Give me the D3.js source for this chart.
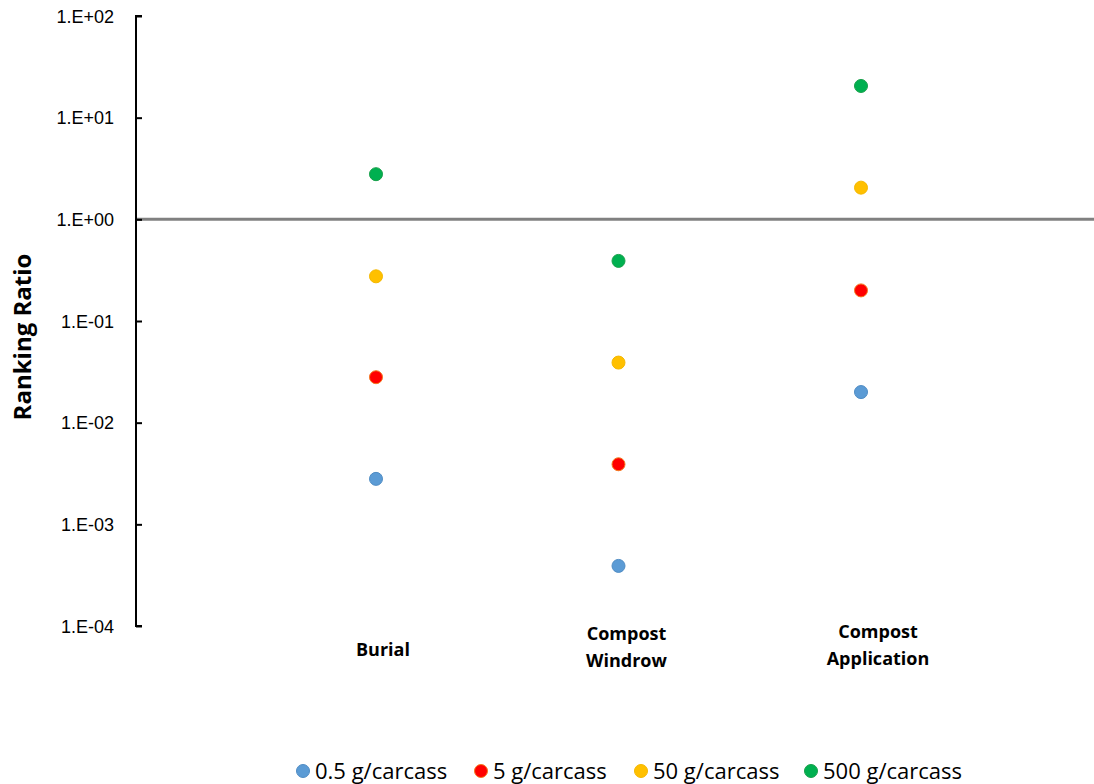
<!DOCTYPE html>
<html>
<head>
<meta charset="utf-8">
<script src="https://cdn.jsdelivr.net/npm/d3@7"></script>
<style>
  body { margin: 0; background: #fff; }
  svg { font-family: "Open Sans", Lato, sans-serif; }
</style>
</head>
<body>
<div id="chart"></div>
<script>
// Data
const categories = ["Burial", "Compost Windrow", "Compost Application"];
const seriesNames = ["0.5 g/carcass", "5 g/carcass", "50 g/carcass", "500 g/carcass"];
const seriesColors = ["#5b9bd5", "#ff0000", "#ffc000", "#00b050"];
const seriesStroke = ["#4f8cc4", "#f4791f", "#f5b800", "#17a04a"];
const dose05 = [0.0028, 0.00039, 0.02];
const dose5 = [0.028, 0.0039, 0.2];
const dose50 = [0.275, 0.039, 2.05];
const dose500 = [2.78, 0.39, 20.5];
const yTicks = [1e-4, 1e-3, 1e-2, 1e-1, 1e0, 1e1, 1e2];
const refLine = 1;

const allSeries = [dose05, dose5, dose50, dose500];

const W = 1094, H = 784;
const margin = { top: 16, right: 0, bottom: 158, left: 136 };
const width = W - margin.left - margin.right;
const height = H - margin.top - margin.bottom;

const svg = d3.select("#chart")
    .append("svg")
    .attr("width", W)
    .attr("height", H);

const g = svg.append("g")
    .attr("transform", `translate(${margin.left},${margin.top})`);

// Scales
const xScale = d3.scalePoint()
    .domain(categories)
    .range([240, 725]);

const yScale = d3.scaleLog()
    .domain([1e-4, 1e2])
    .range([height, 0]);

// Reference line at 1
g.append("line")
    .attr("x1", 0)
    .attr("x2", width)
    .attr("y1", yScale(refLine))
    .attr("y2", yScale(refLine))
    .attr("stroke", "#808080")
    .attr("stroke-width", 3);

// Y axis
const yAxis = g.append("g")
    .call(d3.axisRight(yScale)
        .tickValues(yTicks)
        .tickSize(6)
        .tickFormat(d => {
            const e = Math.round(Math.log10(d));
            const s = e < 0 ? "-" : "+";
            return "1.E" + s + String(Math.abs(e)).padStart(2, "0");
        }));
yAxis.select(".domain").attr("stroke", "#000").attr("stroke-width", 2).attr("d", `M6,0H0V${height}H6`);
yAxis.selectAll(".tick line").attr("stroke", "#000").attr("stroke-width", 2);
yAxis.selectAll(".tick text")
    .attr("x", -22)
    .attr("dy", "0.34em")
    .attr("text-anchor", "end")
    .attr("fill", "#000")
    .style("font-size", "18px");

// Y axis title
svg.append("text")
    .attr("transform", `translate(31,${margin.top + height / 2 + 16}) rotate(-90)`)
    .attr("text-anchor", "middle")
    .style("font-size", "24px")
    .style("font-weight", "bold")
    .text("Ranking Ratio");

// Category labels
const labelLines = [["Burial"], ["Compost", "Windrow"], ["Compost", "Application"]];
const labelDx = [7, 8, 17];
const labelY0 = [640, 624, 622];
categories.forEach((c, i) => {
    const t = svg.append("text")
        .attr("text-anchor", "middle")
        .style("font-size", "18px")
        .style("font-weight", "bold");
    labelLines[i].forEach((ln, j) => {
        t.append("tspan")
            .attr("x", margin.left + xScale(c) + labelDx[i])
            .attr("y", labelY0[i] + 16 + j * 27)
            .text(ln);
    });
});

// Points
allSeries.forEach((vals, si) => {
    g.selectAll(".pt" + si)
        .data(vals)
        .enter()
        .append("circle")
        .attr("cx", (d, i) => xScale(categories[i]))
        .attr("cy", d => yScale(d))
        .attr("r", 6.5)
        .attr("fill", seriesColors[si])
        .attr("stroke", seriesStroke[si])
        .attr("stroke-width", 1);
});

// Legend
const legendX = [303, 481, 641, 811];
const legend = svg.append("g").attr("transform", "translate(0,771)");
seriesNames.forEach((name, i) => {
    legend.append("circle")
        .attr("cx", legendX[i])
        .attr("cy", 0)
        .attr("r", 6.5)
        .attr("fill", seriesColors[i])
        .attr("stroke", seriesStroke[i]);
    legend.append("text")
        .attr("x", legendX[i] + 12)
        .attr("y", 8)
        .style("font-size", "22px")
        .text(name);
});
</script>
</body>
</html>
